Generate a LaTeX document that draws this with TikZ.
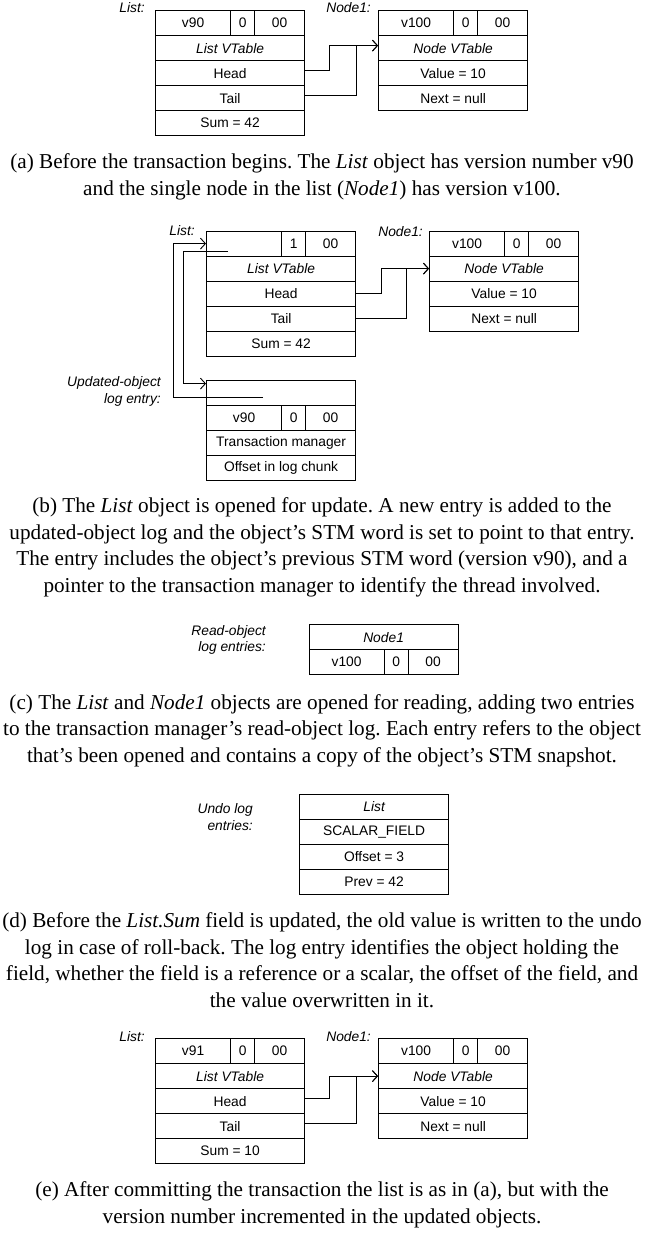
\documentclass[tikz,border=0pt]{standalone}
\usepackage{fontspec}
\setmainfont{Liberation Serif}
\setsansfont{Liberation Sans}
\usetikzlibrary{arrows.meta}
\frenchspacing
\newcommand{\stmrow}[6]{%
  \node[ca] (#1a) at (#2,#3) {#4};
  \node[cb] (#1b) at (#2+75,#3) {#5};
  \node[cc] (#1c) at (#2+99,#3) {#6};}
\begin{document}
\begin{tikzpicture}[x=1pt,y=-1pt,
  cell/.style={draw, line width=1.2pt, inner sep=0pt, minimum height=25pt,
    anchor=north west, font=\sffamily\fontsize{13.8}{16}\selectfont},
  wide/.style={cell, minimum width=149pt},
  ca/.style={cell, minimum width=75pt},
  cb/.style={cell, minimum width=24pt},
  cc/.style={cell, minimum width=50pt},
  it/.style={font=\sffamily\itshape\fontsize{13.8}{16}\selectfont},
  lab/.style={inner sep=0pt, align=right, font=\sffamily\itshape\fontsize{13.8}{16.5}\selectfont},
  captext/.style={inner sep=0pt, align=center, anchor=base, font=\fontsize{21.2}{26.5}\selectfont},
  arr/.style={line width=0.9pt, -{Straight Barb[length=5pt,width=11pt]}}]
\useasboundingbox (0,0) rectangle (653,1236);

% ---------- (a) ----------
\node[lab, anchor=base east] (aLl) at (145,13) {List:};
\node[lab, anchor=base east] (aNl) at (371,13) {Node1:};
\stmrow{aL1}{155}{10}{v90}{0}{00}
\node[wide, it] (aLVT) at (155,35) {List VTable};
\node[wide] (aHead) at (155,60) {Head};
\node[wide] (aTail) at (155,85) {Tail};
\node[wide] (aSum) at (155,110) {Sum = 42};
\stmrow{aN1}{378}{10}{v100}{0}{00}
\node[wide, it] (aNVT) at (378,35) {Node VTable};
\node[wide] (aVal) at (378,60) {Value = 10};
\node[wide] (aNext) at (378,85) {Next = null};
\draw[arr] ([yshift=2.5pt]aHead.east) -- ++(24.5,0) |- ([yshift=2.5pt]aNVT.west);
\draw[arr] ([yshift=2.5pt]aTail.east) -- ++(51,0) |- ([yshift=2.5pt]aNVT.west);
\node[captext] (capa) at (322,195) {(a) Before the transaction begins. The \textit{List} object has version number v90\\and the single node in the list (\textit{Node1}) has version v100.};

% ---------- (b) ----------
\node[lab, anchor=base east] (bLl) at (195,235) {List:};
\node[lab, anchor=base east] (bNl) at (423,236) {Node1:};
\stmrow{bL1}{206}{230.5}{}{1}{00}
\node[wide, it] (bLVT) at (206,255.5) {List VTable};
\node[wide] (bHead) at (206,280.5) {Head};
\node[wide] (bTail) at (206,305.5) {Tail};
\node[wide] (bSum) at (206,330.5) {Sum = 42};
\stmrow{bN1}{429}{230.5}{v100}{0}{00}
\node[wide, it] (bNVT) at (429,255.5) {Node VTable};
\node[wide] (bVal) at (429,280.5) {Value = 10};
\node[wide] (bNext) at (429,305.5) {Next = null};
\draw[arr] (bHead.east) -- ++(25,0) |- (bNVT.west);
\draw[arr] (bTail.east) -- ++(50,0) |- (bNVT.west);
\node[lab, anchor=east] (bUl) at (161,391.5) {Updated-object\\log entry:};
\node[wide] (bG1) at (206,379.5) {};
\stmrow{bG2}{206}{404.5}{v90}{0}{00}
\node[wide] (bG3) at (206,429.5) {Transaction manager};
\node[wide] (bG4) at (206,454.5) {Offset in log chunk};
\coordinate (bp1) at (263,397.5);
\coordinate (bp2) at (228,251);
\draw[arr] (bp1) -- ++(-89.5,0) |- (bL1a.west);
\draw[arr] (bp2) -- ++(-45,0) |- ([yshift=9pt]bG1.west);
\node[captext] (capb) at (322,592) {(b) The \textit{List} object is opened for update. A new entry is added to the\\updated-object log and the object’s STM word is set to point to that entry.\\The entry includes the object’s previous STM word (version v90), and a\\pointer to the transaction manager to identify the thread involved.};

% ---------- (c) ----------
\node[lab, anchor=east] (cRl) at (266,640) {Read-object\\log entries:};
\node[wide, it] (cR1) at (308.5,624) {Node1};
\stmrow{cR2}{308.5}{649}{v100}{0}{00}
\node[captext] (capc) at (322,762) {(c) The \textit{List} and \textit{Node1} objects are opened for reading, adding two entries\\to the transaction manager’s read-object log. Each entry refers to the object\\that’s been opened and contains a copy of the object’s STM snapshot.};

% ---------- (d) ----------
\node[lab, anchor=east] (dUl) at (253,817) {Undo log\\entries:};
\node[wide, it] (dU1) at (299,793.5) {List};
\node[wide] (dU2) at (299,818.5) {SCALAR\_FIELD};
\node[wide] (dU3) at (299,843.5) {Offset = 3};
\node[wide] (dU4) at (299,868.5) {Prev = 42};
\node[captext] (capd) at (322,1007) {(d) Before the \textit{List.Sum} field is updated, the old value is written to the undo\\log in case of roll-back. The log entry identifies the object holding the\\field, whether the field is a reference or a scalar, the offset of the field, and\\the value overwritten in it.};

% ---------- (e) ----------
\node[lab, anchor=base east] (eLl) at (145,1041) {List:};
\node[lab, anchor=base east] (eNl) at (371,1041) {Node1:};
\stmrow{eL1}{155}{1038}{v91}{0}{00}
\node[wide, it] (eLVT) at (155,1063) {List VTable};
\node[wide] (eHead) at (155,1088) {Head};
\node[wide] (eTail) at (155,1113) {Tail};
\node[wide] (eSum) at (155,1138) {Sum = 10};
\stmrow{eN1}{378}{1038}{v100}{0}{00}
\node[wide, it] (eNVT) at (378,1063) {Node VTable};
\node[wide] (eVal) at (378,1088) {Value = 10};
\node[wide] (eNext) at (378,1113) {Next = null};
\draw[arr] ([yshift=2.5pt]eHead.east) -- ++(24.5,0) |- (eNVT.west);
\draw[arr] ([yshift=2.5pt]eTail.east) -- ++(51,0) |- (eNVT.west);
\node[captext] (cape) at (322,1223) {(e) After committing the transaction the list is as in (a), but with the\\version number incremented in the updated objects.};
\end{tikzpicture}
\end{document}
